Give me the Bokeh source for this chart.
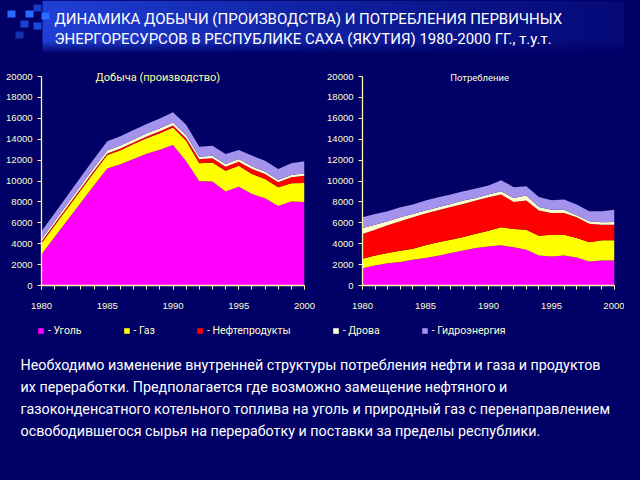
from bokeh.plotting import figure
from bokeh.layouts import column, row
from bokeh.models import (Range1d, FixedTicker, ColumnDataSource, Label,
                          Legend, LegendItem)
from bokeh.core.properties import value
from bokeh.embed import file_html
from bokeh.resources import INLINE
import numpy as np

# ---------------- data ----------------
years = list(range(1980, 2001))
stack_keys = ["coal", "gas", "oil", "wood", "hydro"]
legend_labels = ["- Уголь", "- Газ", "- Нефтепродукты", "- Дрова", "- Гидроэнергия"]
series_colors = ["#ff00ff", "#ffff00", "#ff0000", "#ffffcc", "#a393ec"]

# Добыча (производство), т.у.т.
prod_coal = [3000, 4650, 6300, 7950, 9600, 11200, 11600, 12100, 12600, 13000, 13450,
             11900, 9970, 9950, 9000, 9450, 8750, 8350, 7600, 8050, 8000]
prod_gas = [1040, 1090, 1140, 1190, 1240, 1280, 1350, 1430, 1500, 1580, 1680,
            1950, 1720, 1830, 1990, 2010, 1920, 1840, 1790, 1730, 1810]
prod_oil = [160, 160, 160, 160, 160, 150, 150, 150, 160, 170, 180,
            250, 400, 400, 380, 390, 480, 480, 480, 570, 700]
prod_wood = [260, 260, 270, 280, 290, 300, 300, 300, 300, 300, 300,
             280, 220, 230, 250, 250, 250, 250, 230, 220, 220]
prod_hydro = [730, 760, 790, 820, 850, 880, 880, 900, 900, 920, 960,
              1000, 960, 960, 960, 860, 1030, 1020, 1050, 1120, 1150]

# Потребление, т.у.т.
cons_coal = [1660, 1920, 2140, 2240, 2460, 2620, 2850, 3100, 3360, 3580, 3740,
             3840, 3650, 3420, 2880, 2780, 2880, 2690, 2300, 2400, 2400]
cons_gas = [900, 960, 960, 1090, 1060, 1220, 1280, 1280, 1280, 1380, 1510,
            1730, 1760, 1920, 1890, 2080, 1980, 1850, 1830, 1920, 1920]
cons_oil = [2370, 2460, 2660, 2810, 3010, 3040, 3070, 3140, 3170, 3170, 3200,
            3130, 2590, 2790, 2400, 2080, 2080, 1990, 1790, 1500, 1500]
cons_wood = [570, 480, 380, 390, 320, 290, 290, 290, 320, 250, 250,
             320, 380, 480, 350, 320, 320, 190, 220, 230, 260]
cons_hydro = [1030, 1030, 960, 960, 890, 960, 960, 890, 890, 900, 870,
              1060, 1030, 890, 960, 900, 960, 1020, 960, 1050, 1180]

x_major_ticks = [1980, 1985, 1990, 1995, 2000]
y_ticks = [0, 2000, 4000, 6000, 8000, 10000, 12000, 14000, 16000, 18000, 20000]

title_lines = ["ДИНАМИКА ДОБЫЧИ (ПРОИЗВОДСТВА) И ПОТРЕБЛЕНИЯ ПЕРВИЧНЫХ",
               "ЭНЕРГОРЕСУРСОВ В РЕСПУБЛИКЕ САХА (ЯКУТИЯ) 1980-2000 ГГ., т.у.т."]
paragraph_lines = [
    "Необходимо изменение внутренней структуры потребления нефти и газа и продуктов",
    "их переработки. Предполагается где возможно замещение нефтяного и",
    "газоконденсатного котельного топлива на уголь и природный газ с перенаправлением",
    "освободившегося сырья на переработку и поставки за пределы республики.",
]

# ---------------- style ----------------
BG = "#000066"
AXIS = "#fff5b0"
TICKLBL = "#ffffcc"
SANS = "Roboto"
REG = "Liberation Sans"
Y_TOP = 20000 * 215 / 209  # frame extends 6px above the 20000 tick


def make_chart(data, title, title_x, title_size, title_color, w, bl, br):
    src = ColumnDataSource(dict(year=years, **dict(zip(stack_keys, data))))
    p = figure(width=w, height=250, x_range=Range1d(1980, 2000),
               y_range=Range1d(0, Y_TOP), output_backend="svg",
               toolbar_location=None, min_border_left=bl, min_border_right=br,
               min_border_top=0, min_border_bottom=35,
               background_fill_color=BG, border_fill_color=BG,
               outline_line_color=None)
    p.varea_stack(stackers=stack_keys, x="year", color=series_colors, source=src)
    p.grid.visible = False
    for ax in (p.xaxis[0], p.yaxis[0]):
        ax.axis_line_color = AXIS
        ax.axis_line_width = 1.3
        ax.major_tick_line_color = AXIS
        ax.minor_tick_line_color = AXIS
        ax.major_tick_in = 0
        ax.major_tick_out = 4
        ax.minor_tick_in = 0
        ax.major_label_text_color = TICKLBL
        ax.major_label_text_font = REG
        ax.major_label_text_font_size = "9.5px"
    p.xaxis.ticker = FixedTicker(ticks=x_major_ticks, minor_ticks=years)
    p.xaxis.minor_tick_out = 4
    p.xaxis.major_label_standoff = 13
    p.yaxis.ticker = FixedTicker(ticks=y_ticks)
    p.yaxis.bounds = (0, 20000)
    p.yaxis.minor_tick_out = 0
    p.yaxis.major_label_standoff = 5
    p.add_layout(Label(x=title_x, y=19900, text=title, text_align="center",
                       text_baseline="middle", text_font=SANS,
                       text_font_size=title_size, text_color=title_color))
    return p


left = make_chart([prod_coal, prod_gas, prod_oil, prod_wood, prod_hydro],
                  "Добыча (производство)", 1988.85, "11px", "#ffff99", 320, 41, 16)
right = make_chart([cons_coal, cons_gas, cons_oil, cons_wood, cons_hydro],
                   "Потребление", 1989.3, "9.5px", "#ffffdd", 304, 42, 10)

# ---------------- title band ----------------
top = figure(width=624, height=70, x_range=Range1d(0, 624), y_range=Range1d(70, 0),
             output_backend="svg", toolbar_location=None, min_border=0,
             x_axis_type=None, y_axis_type=None, background_fill_color=BG,
             border_fill_color=BG, outline_line_color=None)
top.grid.visible = False

H, W = 54, 600
xs = np.linspace(0, 1, W)
ys = np.linspace(0, 1, H)
t = np.clip(1 - xs, 0, 1) ** 1.3
vfade = np.clip((1 - ys) / 0.25, 0, 1)
T = np.outer(vfade, t)
base = np.array([0, 0, 102], dtype=float)
bright = np.array([32, 64, 215], dtype=float)
mix = (T * 0.85 + 0.15 * vfade[:, None])[:, :, None]
rgb = base[None, None, :] + (bright - base)[None, None, :] * mix
img = np.zeros((H, W), dtype=np.uint32)
view = img.view(dtype=np.uint8).reshape((H, W, 4))
view[:, :, 0] = rgb[:, :, 0].astype(np.uint8)
view[:, :, 1] = rgb[:, :, 1].astype(np.uint8)
view[:, :, 2] = rgb[:, :, 2].astype(np.uint8)
view[:, :, 3] = 255
top.image_rgba(image=[img], x=[42], y=[0], dw=[600], dh=[54])

# decorative squares of the slide template
sq_x = [7, 25, 33, 20, 15, 41, 33]
sq_y = [10, 10, 4, 20, 31, 12, 22]
sq_c = ["#2a6cff", "#2a6cff", "#1838c8", "#1a40d8", "#1430b0", "#2a6cff", "#1a48e0"]
top.quad(left=sq_x, right=[v + 8 for v in sq_x], top=sq_y,
         bottom=[v + 7 for v in sq_y], fill_color=sq_c, line_color=None)

top.text(x=[54, 54], y=[18, 38], text=title_lines, text_baseline="middle",
         text_font=value(SANS), text_font_size="15px", text_color="white")

# ---------------- legend + paragraph ----------------
bot = figure(width=624, height=144, x_range=Range1d(0, 624), y_range=Range1d(464, 320),
             output_backend="svg", toolbar_location=None, min_border=0,
             x_axis_type=None, y_axis_type=None, background_fill_color=BG,
             border_fill_color=BG, outline_line_color=None)
bot.grid.visible = False

items = []
for lbl, c in zip(legend_labels, series_colors):
    # off-screen proxy glyph, used only for the legend swatch
    r = bot.quad(left=[-20], right=[-10], top=[0], bottom=[10],
                 fill_color=c, line_color=None)
    items.append(LegendItem(label=lbl, renderers=[r]))
leg = Legend(items=items, orientation="horizontal", location=(37, 127),
             glyph_width=7, glyph_height=7, label_standoff=4, spacing=41,
             padding=0, margin=0, background_fill_alpha=0, border_line_color=None,
             label_text_font=SANS, label_text_font_size="10.5px",
             label_text_color="#ffffcc", label_height=14)
bot.add_layout(leg)

bot.text(x=[20] * 4, y=[364, 386, 408, 430], text=paragraph_lines,
         text_baseline="middle", text_font=value(SANS), text_font_size="14.3px",
         text_color="white")

try:
    from bokeh.models import GlobalInlineStyleSheet
    sheets = [GlobalInlineStyleSheet(css="html, body { background-color: #000066; }")]
except Exception:
    sheets = []

layout = column(top, row(left, right, styles={"background-color": BG}), bot,
                styles={"background-color": BG}, stylesheets=sheets)
open("out.html", "w").write(file_html(layout, INLINE))
